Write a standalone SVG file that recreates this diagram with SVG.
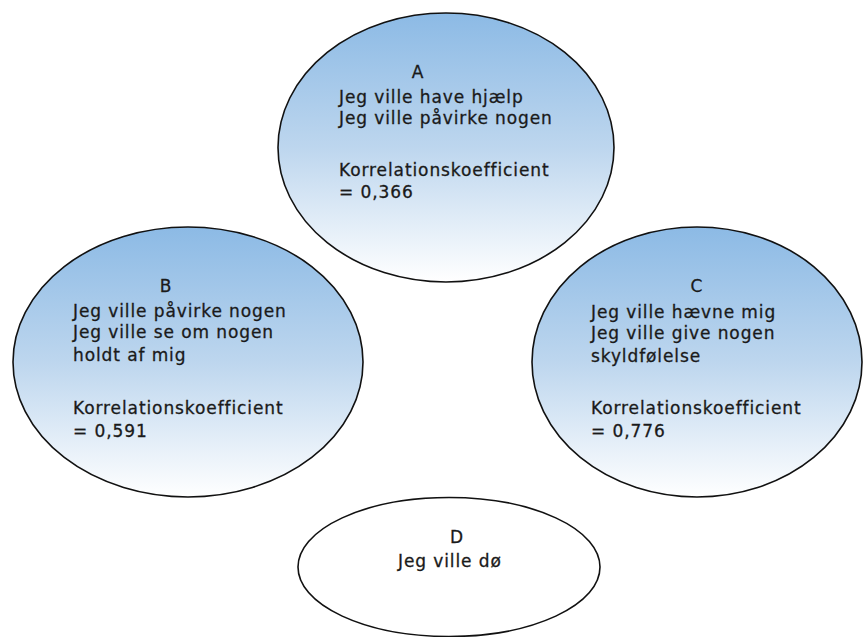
<svg xmlns="http://www.w3.org/2000/svg" width="863" height="637" viewBox="0 0 863 637">
  <defs>
    <linearGradient id="blueFade" x1="0" y1="0" x2="0" y2="1">
      <stop offset="0" stop-color="#8CBAE5"/>
      <stop offset="0.5" stop-color="#BDD6EE"/>
      <stop offset="1" stop-color="#FFFFFF"/>
    </linearGradient>
    <style>
      .shape { stroke: #111; stroke-width: 1.6; }
      .grad { fill: url(#blueFade); }
      .plain { fill: #FFFFFF; }
      text { font-family: "DejaVu Sans", Verdana, sans-serif; font-size: 17px; fill: #1a1a1a; stroke: #1a1a1a; stroke-width: 0.3px; letter-spacing: 0.9px; }
      .mid { text-anchor: middle; }
    </style>
  </defs>
  <rect width="863" height="637" fill="#FFFFFF"/>
  <g id="connectors"></g>
  <g id="node-A">
    <ellipse class="shape grad" cx="446" cy="147.5" rx="168" ry="134.5"/>
    <text class="mid" x="418" y="78">A</text>
    <text x="339" y="103">Jeg ville have hjælp</text>
    <text x="339" y="124">Jeg ville påvirke nogen</text>
    <text x="339" y="176">Korrelationskoefficient</text>
    <text x="339" y="198">= 0,366</text>
  </g>
  <g id="node-B">
    <ellipse class="shape grad" cx="188" cy="362" rx="175" ry="135"/>
    <text class="mid" x="166" y="292">B</text>
    <text x="73" y="317">Jeg ville påvirke nogen</text>
    <text x="73" y="338">Jeg ville se om nogen</text>
    <text x="73" y="361">holdt af mig</text>
    <text x="73" y="414">Korrelationskoefficient</text>
    <text x="73" y="437">= 0,591</text>
  </g>
  <g id="node-C">
    <ellipse class="shape grad" cx="697" cy="362" rx="165" ry="135"/>
    <text class="mid" x="697" y="292">C</text>
    <text x="591" y="318">Jeg ville hævne mig</text>
    <text x="591" y="339">Jeg ville give nogen</text>
    <text x="591" y="362">skyldfølelse</text>
    <text x="591" y="414">Korrelationskoefficient</text>
    <text x="591" y="437">= 0,776</text>
  </g>
  <g id="node-D">
    <ellipse class="shape plain" cx="449" cy="567" rx="151" ry="69.5"/>
    <text class="mid" x="457" y="543">D</text>
    <text x="398" y="567">Jeg ville dø</text>
  </g>
</svg>
